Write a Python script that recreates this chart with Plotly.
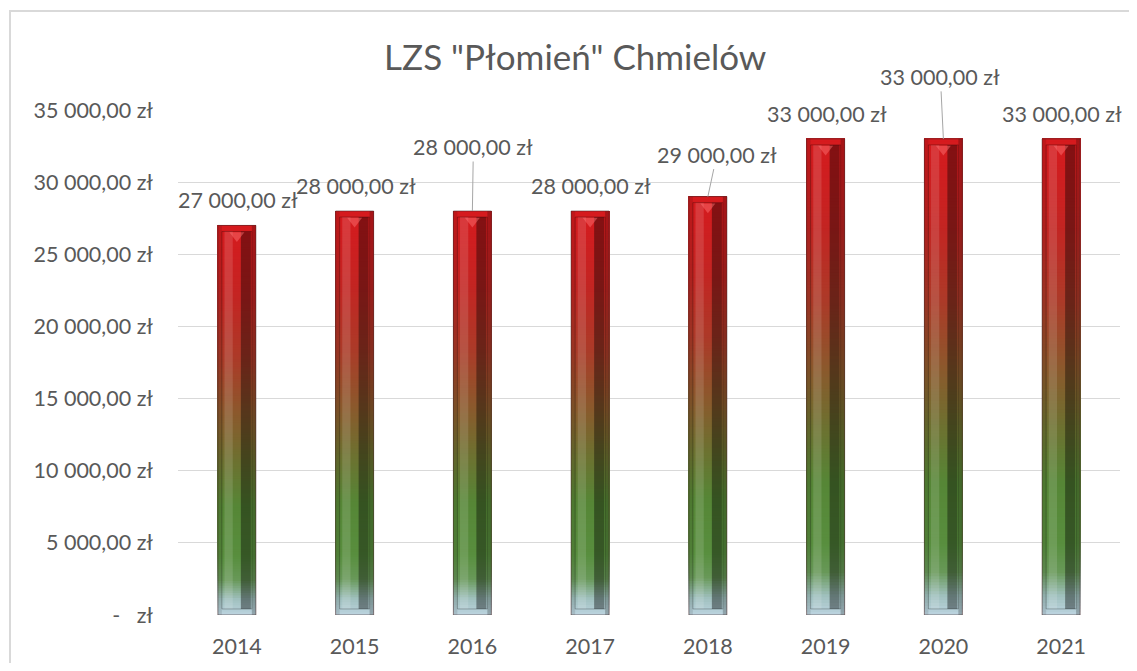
import plotly.graph_objects as go

# ---- data ----
years = ["2014", "2015", "2016", "2017", "2018", "2019", "2020", "2021"]
amounts = [27000, 28000, 28000, 28000, 29000, 33000, 33000, 33000]
y_tick_values = [0, 5000, 10000, 15000, 20000, 25000, 30000, 35000]
title_text = 'LZS "Płomień" Chmielów'


def pln(v):
    if v == 0:
        return "-   zł"
    s = f"{v:,.2f}".replace(",", " ").replace(".", ",")
    return s + " zł"


# category positions on the x axis
xpos = list(range(len(years)))

# ---- style ----
FONT = "Lato"
TXT = "#595959"
GRID = "#d9d9d9"
FS = 21.5
BAR_W = 0.323
INSET = 420  # bevel inset, data units

# gradient stops: (fraction of bar height from bottom, rgb)
stops = [
    (0.00, (188, 212, 224)),
    (0.04, (160, 192, 190)),
    (0.09, (104, 152, 88)),
    (0.15, (88, 142, 62)),
    (0.28, (86, 134, 54)),
    (0.40, (110, 112, 48)),
    (0.52, (140, 88, 44)),
    (0.66, (172, 58, 40)),
    (0.82, (196, 36, 34)),
    (1.00, (214, 26, 30)),
]


def grad(f):
    for (f0, c0), (f1, c1) in zip(stops[:-1], stops[1:]):
        if f0 <= f <= f1:
            t = (f - f0) / (f1 - f0) if f1 > f0 else 0
            return "rgb(%d,%d,%d)" % tuple(round(a + (b - a) * t) for a, b in zip(c0, c1))
    return "rgb(%d,%d,%d)" % stops[-1][1]


fig = go.Figure()

N = 160
for i in range(N):
    f0 = i / N
    fm = (i + 0.5) / N
    fig.add_trace(go.Bar(
        x=xpos,
        y=[v * (1 - f0) for v in amounts],
        base=[v * f0 for v in amounts],
        width=BAR_W,
        marker=dict(color=grad(fm), line=dict(width=0)),
        hoverinfo="skip",
    ))


def overlay(offset, width, color, inset=INSET, line=None):
    fig.add_trace(go.Bar(
        x=xpos,
        y=[v - 2 * inset for v in amounts],
        base=[inset for _ in amounts],
        offset=offset,
        width=width,
        marker=dict(color=color, line=line or dict(width=0)),
        hoverinfo="skip",
    ))


overlay(-0.161, 0.034, "rgba(0,0,0,0.10)", inset=0)
overlay(0.127, 0.034, "rgba(0,0,0,0.22)", inset=0)
overlay(-0.105, 0.07, "rgba(255,255,255,0.13)")
overlay(0.034, 0.085, "rgba(0,0,0,0.38)")
overlay(-0.127, 0.254, "rgba(0,0,0,0)", line=dict(width=1, color="rgba(0,0,0,0.25)"))
# outer outline
fig.add_trace(go.Bar(
    x=xpos, y=amounts, width=BAR_W,
    marker=dict(color="rgba(0,0,0,0)", line=dict(width=1, color="rgba(70,40,40,0.55)")),
    hoverinfo="skip",
))
# top chevron
fig.add_trace(go.Scatter(
    x=xpos, y=[v - 700 for v in amounts], mode="markers",
    marker=dict(symbol="triangle-down", size=13, color="rgba(255,120,120,0.45)", line=dict(width=0)),
    hoverinfo="skip",
))

# data labels
leader = {"2016": (1, -64), "2018": (9, -42), "2020": (-3, -62)}
for xi, yr, v in zip(xpos, years, amounts):
    if yr in leader:
        ax, ay = leader[yr]
        fig.add_annotation(
            x=xi, y=v, text=pln(v), showarrow=True, arrowhead=0, arrowwidth=1,
            arrowcolor="#a6a6a6", ax=ax, ay=ay, standoff=0,
            font=dict(family=FONT, size=FS, color=TXT),
        )
    else:
        fig.add_annotation(
            x=xi, y=v, text=pln(v), showarrow=False, xanchor="center", yanchor="middle",
            yshift=25, xshift=1, font=dict(family=FONT, size=FS, color=TXT),
        )

# outer chart border
L, T, PW, PH = 170, 102, 942, 505


def px(x):
    return (x - L) / PW


def py(y):
    return 1 - (y - T) / PH


fig.add_shape(type="rect", xref="paper", yref="paper",
              x0=px(2), x1=px(1140), y0=py(3), y1=py(700),
              line=dict(color="#d9d9d9", width=2), fillcolor="rgba(0,0,0,0)", layer="below")

fig.update_layout(
    width=1121, height=655,
    margin=dict(l=L, r=1121 - L - PW, t=T, b=655 - T - PH),
    barmode="overlay",
    showlegend=False,
    plot_bgcolor="white",
    paper_bgcolor="white",
    hovermode=False,
    title=dict(text=title_text, x=0.506, xref="container", y=1 - 50 / 655, yref="container",
               xanchor="center", yanchor="middle", automargin=False,
               font=dict(family=FONT, size=35, color=TXT)),
    font=dict(family=FONT, color=TXT),
)
fig.update_xaxes(
    range=[-0.5, len(years) - 0.5], tickvals=xpos, ticktext=years, automargin=False,
    showgrid=False, showline=False, zeroline=False, ticks="",
    tickfont=dict(family=FONT, size=FS, color=TXT), ticklabelstandoff=16,
)
fig.update_yaxes(
    range=[0, 35000], tickvals=y_tick_values, ticktext=[pln(v) for v in y_tick_values],
    automargin=False,
    showgrid=True, gridcolor=GRID, gridwidth=1, zeroline=False, showline=False, ticks="",
    tickfont=dict(family=FONT, size=FS, color=TXT), ticklabelstandoff=24,
)

fig.write_html("out.html")
